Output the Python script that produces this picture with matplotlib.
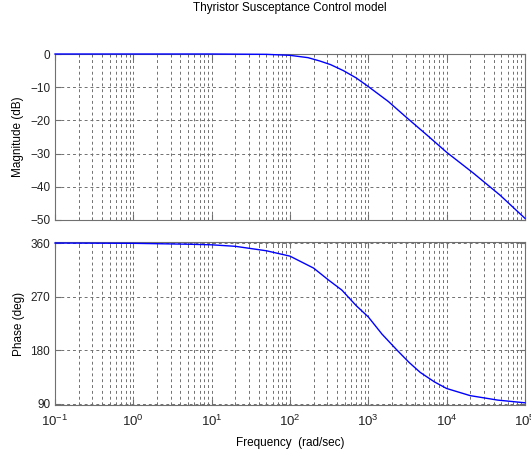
import matplotlib
matplotlib.use('Agg')
import matplotlib.pyplot as plt
from matplotlib.ticker import LogLocator, NullFormatter

plt.rcParams['font.family'] = ['Liberation Sans', 'DejaVu Sans']
plt.rcParams['font.size'] = 8.5

# values
mag_freq = [0.1, 1, 10, 50, 100, 170, 240, 330, 480, 700, 1000, 1800, 3000,
            5600, 10000, 22000, 48000, 100000]
mag_db = [0, 0, 0, -0.1, -0.4, -1.1, -2.1, -3.2, -5.0, -7.2, -9.8, -14.3, -18.9,
          -24.4, -29.6, -35.9, -42.5, -49.5]

phase_freq = [0.1, 1, 5, 10, 20, 50, 100, 200, 310, 460, 700, 1000, 1500, 2300,
              3300, 4600, 7000, 10000, 20000, 45000, 100000]
phase_deg = [360, 359.5, 358, 357, 354.5, 347, 338, 318, 298, 281, 255, 236, 207,
             181, 160, 143, 127, 116, 104, 96.5, 92]

mag_ticks = [0, -10, -20, -30, -40, -50]
phase_ticks = [90, 180, 270, 360]

fig = plt.figure(figsize=(5.31, 4.55), dpi=100)
ax1 = fig.add_axes([0.1036, 0.5165, 0.885, 0.3648])
ax2 = fig.add_axes([0.1036, 0.1095, 0.885, 0.359])

grid_kw = dict(color='#707070', linestyle=(0, (3, 3)), linewidth=0.7)

for ax in (ax1, ax2):
    ax.set_xscale('log')
    ax.set_xlim(0.1, 1e5)
    ax.xaxis.set_major_locator(LogLocator(base=10, numticks=10))
    ax.xaxis.set_minor_locator(LogLocator(base=10, subs=range(2, 10), numticks=20))
    ax.xaxis.set_minor_formatter(NullFormatter())
    ax.grid(True, which='major', axis='both', **grid_kw)
    ax.grid(True, which='minor', axis='x', **grid_kw)
    ax.tick_params(which='both', direction='in', top=True, right=True,
                   color='#707070', labelcolor='#222222')
    ax.tick_params(which='major', length=4)
    ax.tick_params(which='minor', length=2)
    for s in ax.spines.values():
        s.set_color('#707070')
    ax.set_axisbelow(True)

ax1.plot(mag_freq, mag_db, color='#0000ff', linewidth=1.0, clip_on=False, zorder=5)
ax1.set_ylim(-50, 0)
ax1.set_yticks(mag_ticks)
ax1.tick_params(labelbottom=False)
ax1.set_ylabel('Magnitude (dB)')
ax1.set_title('Thyristor Susceptance Control model', fontsize=8.5, pad=31)

ax2.plot(phase_freq, phase_deg, color='#0000ff', linewidth=1.0, clip_on=False, zorder=5)
ax2.set_ylim(88, 362)
ax2.set_yticks(phase_ticks)
ax2.set_ylabel('Phase (deg)')
ax2.tick_params(axis='x', which='major', labelsize=9.5, pad=6)
ax2.set_xlabel('Frequency  (rad/sec)', labelpad=6)

fig.savefig('out.png', dpi=100)
